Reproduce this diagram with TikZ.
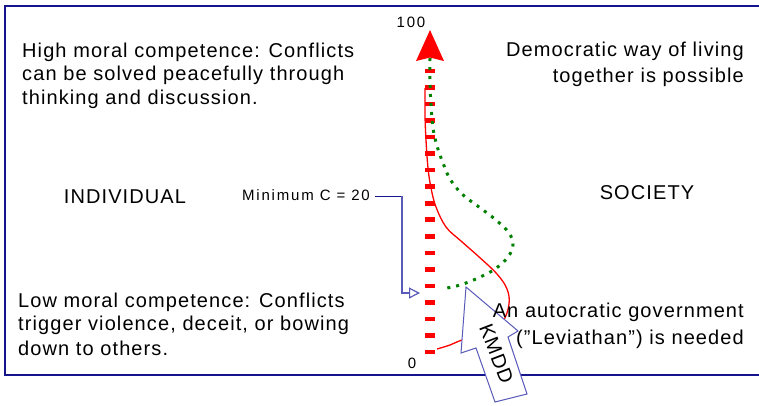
\documentclass[tikz,border=0pt]{standalone}
\usepackage{fontspec}
\setmainfont{Liberation Sans}[LetterSpace=5.5]
\newfontfamily\smallfont{Liberation Sans}[LetterSpace=12]
\usetikzlibrary{arrows.meta}
\definecolor{navyline}{RGB}{20,20,140}
\definecolor{slate}{RGB}{90,90,185}
\definecolor{axisred}{RGB}{255,0,0}
\definecolor{dotgreen}{RGB}{0,128,0}
\tikzset{
  bigtext/.style={font=\fontsize{20}{24}\selectfont, inner sep=0pt, text=black},
  smalltext/.style={font=\smallfont\fontsize{15}{18}\selectfont, inner sep=0pt, text=black},
  framestyle/.style={draw=navyline, line width=1.8pt},
  redcurve/.style={draw=axisred, line width=1.3pt},
  greencurve/.style={draw=dotgreen, line width=3pt, dash pattern=on 3pt off 6pt},
  kmddarrow/.style={draw=slate, line width=1pt, fill=white},
  minline/.style={draw=slate, line width=1.2pt},
}
\begin{document}
\begin{tikzpicture}[x=1pt,y=-1pt]
\useasboundingbox (0,0) rectangle (759,405);
\clip (0,0) rectangle (759,405);
% frame
\draw[framestyle] (770,6) -- (5,6) -- (5,375) -- (770,375);
% axis dashes
\foreach \i in {0,...,17}{
  \fill[axisred] (425,{352-\i*16.53-2.3}) rectangle (435,{352-\i*16.53+2.3});
}
% red curve
\draw[redcurve] plot[smooth, tension=0.6] coordinates {
  (437,349) (450,345) (462,340) (488,332) (503,321) (509,304) (507,289)
  (497,274) (478,256) (461,241) (446,227) (436,207) (431,188) (428,168)
  (426,140) (425,115) (425,88)};
% green dotted curve
\draw[greencurve] plot[smooth, tension=0.6] coordinates {
  (430,58) (430,82) (431,105) (433,128) (437,146) (443,163) (450,179)
  (462,194) (479,207) (496,220) (509,233) (513,245) (508,257) (495,269)
  (478,278) (460,285) (442,289)};
% axis arrowhead
\fill[axisred] (430,30) -- (444,61) -- (430,57.5) -- (416,61) -- cycle;
% KMDD block arrow
\draw[kmddarrow] (466,287) -- (518,331) -- (508,337) -- (527,394) -- (495,402)
  -- (476,348) -- (461,353) -- cycle;
\node[bigtext, rotate=-69] (kmdd) at (496.5,354) {KMDD};
% axis labels
\node[smalltext, anchor=base] (top) at (411,27) {100};
\node[smalltext, anchor=base] (zero) at (412,368) {0};
% texts
\node[bigtext, anchor=base west] (h1) at (22,57) {High moral competence: Conflicts};
\node[bigtext, anchor=base west] (h2) at (22,80.5) {can be solved peacefully through};
\node[bigtext, anchor=base west] (h3) at (22,104) {thinking and discussion.};
\node[bigtext, anchor=base east] (d1) at (744,56) {Democratic way of living};
\node[bigtext, anchor=base east] (d2) at (744,82.5) {together is possible};
\node[bigtext, anchor=base] (ind) at (125,203) {INDIVIDUAL};
\node[bigtext, anchor=base] (soc) at (647,199) {SOCIETY};
\node[bigtext, anchor=base west] (l1) at (18,307) {Low moral competence: Conflicts};
\node[bigtext, anchor=base west] (l2) at (18,330.5) {trigger violence, deceit, or bowing};
\node[bigtext, anchor=base west] (l3) at (18,355) {down to others.};
\node[bigtext, anchor=base east] (a1) at (744,317) {An autocratic government};
\node[bigtext, anchor=base east] (a2) at (744,344) {(”Leviathan”) is needed};
\node[smalltext, anchor=base east] (minc) at (370,200.5) {Minimum C = 20};
% minimum connector
\coordinate (mcA) at (375,196);
\coordinate (mcB) at (402,196);
\coordinate (mcC) at (402,293);
\coordinate (mcT) at (420,293);
\draw[draw=navyline, line width=0.9pt] (mcA) -- (mcB);
\draw[minline, -{Triangle[open, length=11pt, width=11pt, fill=white]}] (mcB) -- (mcC) -- (mcT);
\end{tikzpicture}
\end{document}
